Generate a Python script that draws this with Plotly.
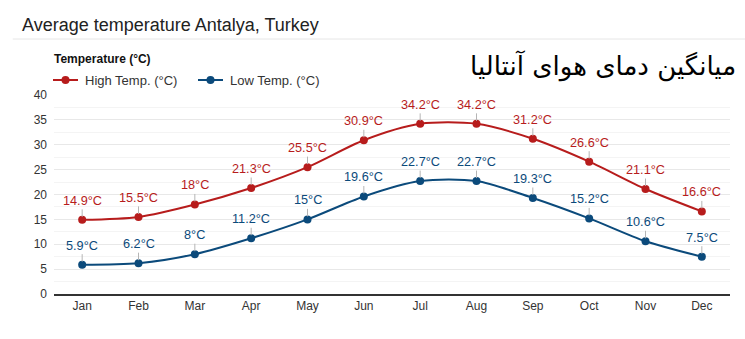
import plotly.graph_objects as go

months = ["Jan", "Feb", "Mar", "Apr", "May", "Jun", "Jul", "Aug", "Sep", "Oct", "Nov", "Dec"]
high_temp = [14.9, 15.5, 18, 21.3, 25.5, 30.9, 34.2, 34.2, 31.2, 26.6, 21.1, 16.6]
low_temp = [5.9, 6.2, 8, 11.2, 15, 19.6, 22.7, 22.7, 19.3, 15.2, 10.6, 7.5]
y_ticks = [0, 5, 10, 15, 20, 25, 30, 35, 40]
series_names = ["High Temp. (°C)", "Low Temp. (°C)"]

RED = "#b71c1c"
BLUE = "#0b4a7b"
FONT = "Liberation Sans, Arial, sans-serif"

W, H = 745, 339
ML, MR, MT, MB = 54, 15, 95, 45
PW, PH = W - ML - MR, H - MT - MB


def px(x):
    """pixel x -> paper x"""
    return (x - ML) / PW


def py(y):
    """pixel y -> paper y"""
    return (H - MB - y) / PH


fig = go.Figure()
for name, vals, color in [(series_names[0], high_temp, RED), (series_names[1], low_temp, BLUE)]:
    fig.add_trace(go.Scatter(
        x=months, y=vals, name=name, mode="lines+markers",
        line=dict(color=color, width=2, shape="spline", smoothing=0.8),
        marker=dict(color=color, size=8),
        hoverinfo="skip", showlegend=False,
    ))

# value labels with short gray leader lines
annotations = []
for vals, color in [(high_temp, RED), (low_temp, BLUE)]:
    for m, v in zip(months, vals):
        annotations.append(dict(
            x=m, y=v, xref="x", yref="y", text=f"{v:g}°C",
            showarrow=True, arrowhead=0, arrowwidth=1, arrowcolor="#b5b5b5",
            ax=0, ay=-19, standoff=3,
            font=dict(family=FONT, size=12.7, color=color),
        ))

# Persian subtitle
annotations.append(dict(
    xref="paper", yref="paper", x=1.012, y=1.145, xanchor="right", yanchor="middle",
    text="میانگین دمای هوای آنتالیا", showarrow=False,
    font=dict(family="DejaVu Sans", size=26, color="#000000"),
))

# legend block: title plus two line/marker keys
annotations.append(dict(
    xref="paper", yref="paper", x=px(52), y=py(59), xanchor="left", yanchor="middle",
    text="<b>Temperature (°C)</b>", showarrow=False,
    font=dict(family=FONT, size=12, color="#111111"),
))
shapes = [dict(type="line", xref="paper", yref="paper",
               x0=-0.061, x1=1.03, y0=py(39), y1=py(39),
               line=dict(color="#e6e6e6", width=1))]
for name, color, x0 in [(series_names[0], RED, 53), (series_names[1], BLUE, 198)]:
    shapes.append(dict(type="line", xref="paper", yref="paper",
                       x0=px(x0), x1=px(x0 + 25), y0=py(80), y1=py(80),
                       line=dict(color=color, width=2)))
    shapes.append(dict(type="circle", xref="paper", yref="paper",
                       x0=px(x0 + 8.5), x1=px(x0 + 16.5), y0=py(76), y1=py(84),
                       fillcolor=color, line=dict(color=color, width=0)))
    annotations.append(dict(
        xref="paper", yref="paper", x=px(x0 + 30), y=py(80), xanchor="left", yanchor="middle",
        text=name, showarrow=False,
        font=dict(family=FONT, size=13, color="#333333"),
    ))

fig.update_layout(
    width=W, height=H,
    margin=dict(l=ML, r=MR, t=MT, b=MB),
    paper_bgcolor="white", plot_bgcolor="white",
    title=dict(
        text="Average temperature Antalya, Turkey",
        xref="container", yref="container", x=22 / W, y=1 - 25 / H,
        xanchor="left", yanchor="middle",
        font=dict(family=FONT, size=18, color="#222222"),
    ),
    xaxis=dict(
        type="category", range=[-0.5, 11.5],
        showgrid=False, showline=True, linecolor="#333333", linewidth=1.5,
        ticks="", tickfont=dict(family=FONT, size=12, color="#333333"),
        fixedrange=True,
    ),
    yaxis=dict(
        range=[0, 40], tickvals=y_ticks, showline=False, zeroline=False,
        gridcolor="#e8e8e8", gridwidth=1,
        minor=dict(dtick=2.5, showgrid=True, gridcolor="#f4f4f4", gridwidth=1),
        tickfont=dict(family=FONT, size=12, color="#333333"), ticklabelstandoff=6,
        fixedrange=True,
    ),
    annotations=annotations,
    shapes=shapes,
    showlegend=False,
)

fig.write_html("out.html")
